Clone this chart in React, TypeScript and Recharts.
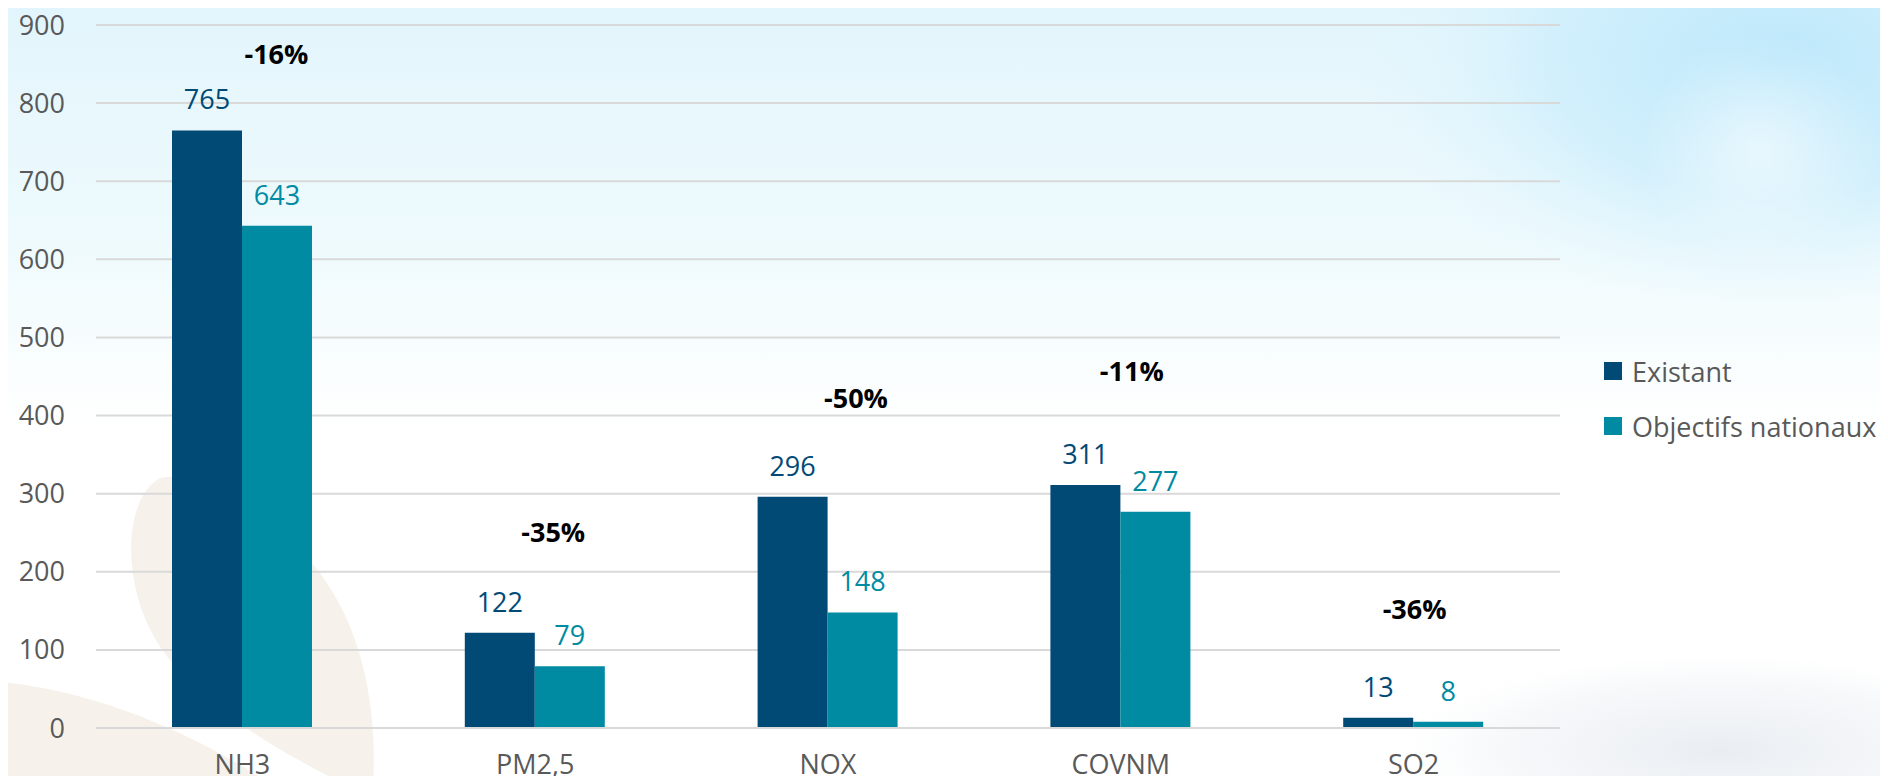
import React from 'react';
import { BarChart, Bar, XAxis, YAxis, CartesianGrid, Legend, LabelList, ReferenceDot } from 'recharts';

const categories = ['NH3', 'PM2,5', 'NOX', 'COVNM', 'SO2'];
const existant = [765, 122, 296, 311, 13];
const objectifs = [643, 79, 148, 277, 8];
const reductionLabels = ['-16%', '-35%', '-50%', '-11%', '-36%'];
const reductionLabelLevels = [863, 252, 423, 458, 153];
const reductionLabelShift = [34, 18, 28, 11, 1];
const yTicks = [0, 100, 200, 300, 400, 500, 600, 700, 800, 900];

const seriesNames = ['Existant', 'Objectifs nationaux'];
const DARK = '#024A76';
const TEAL = '#008BA3';
const FONT = '"Open Sans", sans-serif';
const GRAY = '#595959';

const data = categories.map((c, i) => ({
  name: c,
  existant: existant[i],
  objectifs: objectifs[i],
}));

const renderLegend = () => (
  <div
    style={{
      width: 288,
      paddingLeft: 44,
      paddingTop: 13,
      boxSizing: 'border-box',
      fontFamily: FONT,
      fontSize: 27,
      color: GRAY,
      whiteSpace: 'nowrap',
    }}
  >
    {seriesNames.map((n, i) => (
      <div key={n} style={{ display: 'flex', alignItems: 'center', height: 55 }}>
        <span
          style={{
            display: 'inline-block',
            flexShrink: 0,
            width: 18,
            height: 18,
            background: i === 0 ? DARK : TEAL,
            marginRight: 10,
          }}
        />
        <span style={{ flexShrink: 0 }}>{n}</span>
      </div>
    ))}
  </div>
);

const Background = () => (
  <svg width={1888} height={784} style={{ position: 'absolute', left: 0, top: 0 }}>
    <defs>
      <linearGradient id="sky" x1="0" y1="0" x2="0" y2="1">
        <stop offset="0" stopColor="#e2f5fc" />
        <stop offset="0.3" stopColor="#eefafd" />
        <stop offset="0.55" stopColor="#ffffff" />
        <stop offset="1" stopColor="#ffffff" />
      </linearGradient>
      <radialGradient id="blue" cx="1780" cy="60" r="420" gradientUnits="userSpaceOnUse" gradientTransform="matrix(1 0 0 0.6 0 24)">
        <stop offset="0" stopColor="#bce8fb" stopOpacity="1" />
        <stop offset="0.55" stopColor="#cdeefc" stopOpacity="0.8" />
        <stop offset="1" stopColor="#e2f5fc" stopOpacity="0" />
      </radialGradient>
      <radialGradient id="cloudW" cx="1760" cy="150" r="120" gradientUnits="userSpaceOnUse">
        <stop offset="0" stopColor="#ffffff" stopOpacity="0.55" />
        <stop offset="1" stopColor="#ffffff" stopOpacity="0" />
      </radialGradient>
      <radialGradient id="cloudG" cx="1720" cy="750" r="320" gradientUnits="userSpaceOnUse" gradientTransform="matrix(1 0 0 0.3 0 525)">
        <stop offset="0" stopColor="#e9edf2" stopOpacity="1" />
        <stop offset="0.7" stopColor="#f1f4f7" stopOpacity="0.6" />
        <stop offset="1" stopColor="#f6f8fa" stopOpacity="0" />
      </radialGradient>
    </defs>
    <rect x={0} y={0} width={1888} height={784} fill="url(#sky)" />
    <rect x={0} y={0} width={1888} height={784} fill="url(#blue)" />
    <rect x={0} y={0} width={1888} height={784} fill="url(#cloudW)" />
    <rect x={1300} y={600} width={588} height={184} fill="url(#cloudG)" />
    <path
      d="M 160 478 C 120 500 120 600 170 660 C 230 730 300 760 373 800 L 373 784 C 378 700 360 610 300 550 C 250 500 200 470 160 478 Z"
      fill="#f6f2eb"
    />
    <path d="M 0 682 C 90 690 190 730 270 784 L 0 784 Z" fill="#f6f2eb" />
  </svg>
);

export default function App() {
  return (
    <div style={{ position: 'relative', width: 1888, height: 784, margin: -8, overflow: 'hidden', background: '#fff' }}>
      <Background />
      <div style={{ position: 'absolute', left: 0, top: 0 }}>
        <BarChart
          width={1888}
          height={784}
          data={data}
          margin={{ top: 25, right: 40, bottom: 0, left: 0 }}
          barGap={0}
          barSize={70}
        >
          <CartesianGrid vertical={false} stroke="#d9d9d9" strokeWidth={2} />
          <XAxis
            dataKey="name"
            height={56}
            axisLine={{ stroke: '#d9d9d9', strokeWidth: 2 }}
            tickLine={false}
            tickSize={0}
            tickMargin={27}
            tick={{ fill: GRAY, fontSize: 27, fontFamily: FONT }}
          />
          <YAxis
            width={96}
            domain={[0, 900]}
            ticks={yTicks}
            axisLine={false}
            tickLine={false}
            tickSize={0}
            tickMargin={31}
            tick={{ fill: GRAY, fontSize: 27, fontFamily: FONT }}
          />
          <Legend layout="vertical" align="right" verticalAlign="middle" content={renderLegend} />
          <Bar dataKey="existant" name={seriesNames[0]} fill={DARK} isAnimationActive={false}>
            <LabelList dataKey="existant" position="top" offset={21} fill={DARK} fontSize={27} fontFamily={FONT} />
          </Bar>
          <Bar dataKey="objectifs" name={seriesNames[1]} fill={TEAL} isAnimationActive={false}>
            <LabelList dataKey="objectifs" position="top" offset={21} fill={TEAL} fontSize={27} fontFamily={FONT} />
          </Bar>
          {categories.map((c, i) => (
            <ReferenceDot
              key={c}
              x={c}
              y={reductionLabelLevels[i]}
              r={0}
              shape={(p: any) => (
                <text
                  x={p.cx + reductionLabelShift[i]}
                  y={p.cy}
                  textAnchor="middle"
                  dominantBaseline="central"
                  fontFamily={FONT}
                  fontWeight="bold"
                  fontSize={27}
                  fill="#000"
                >
                  {reductionLabels[i]}
                </text>
              )}
            />
          ))}
        </BarChart>
      </div>
    </div>
  );
}
